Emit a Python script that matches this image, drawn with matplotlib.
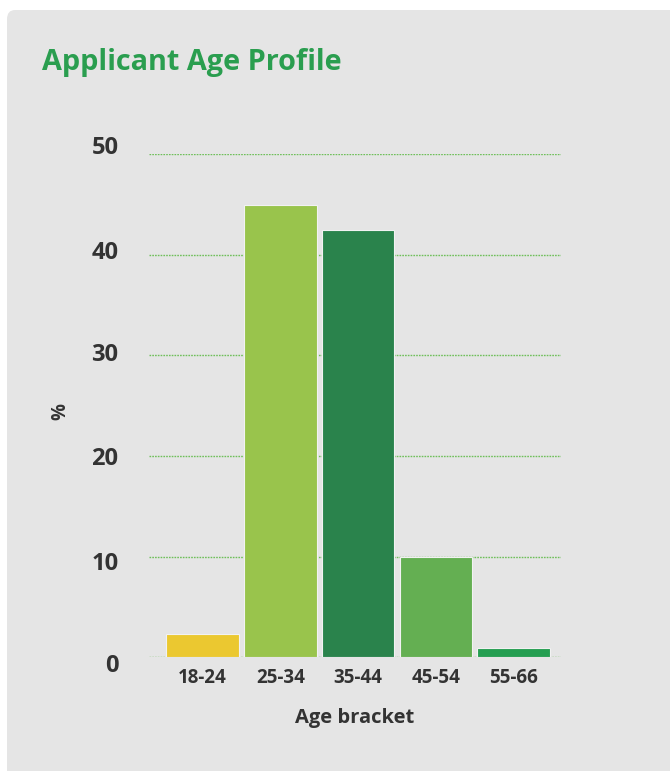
import matplotlib.pyplot as plt
from matplotlib.patches import FancyBboxPatch
from matplotlib.transforms import ScaledTranslation

brackets = ['18-24', '25-34', '35-44', '45-54', '55-66']
shares = [2.3, 45.0, 42.5, 10.0, 0.9]
bar_colors = ['#ebc830', '#99c44c', '#2a834c', '#64af52', '#259e51']
y_ticks = [0, 10, 20, 30, 40, 50]
# the reference's y labels sit a little off their gridlines (pixels, + = down)
label_shift = [5.7, 4.7, 0, -3.7, -4.6, -9.0]

TEXT = '#333333'
GREEN = '#2a9e4f'

plt.rcParams['font.family'] = ['Open Sans', 'DejaVu Sans']

fig = plt.figure(figsize=(6.7, 7.71), dpi=100)
fig.patch.set_facecolor('white')

# grey card behind the chart
card = FancyBboxPatch((7 / 670, -0.05), 1.1, (771 - 10) / 771 + 0.05,
                      boxstyle='round,pad=0,rounding_size=0.012',
                      transform=fig.transFigure, facecolor='#e5e5e5',
                      edgecolor='none', zorder=-10)
fig.patches.append(card)

fig.text(42 / 670, 1 - 70 / 771, 'Applicant Age Profile', color=GREEN,
         fontsize=20.8, fontweight='bold', va='baseline', ha='left')

ax = fig.add_axes([149 / 670, 113.7 / 771, 412 / 670, 503 / 771])
ax.set_facecolor('none')

x = range(len(brackets))
ax.bar(x, shares, width=0.93, color=bar_colors, edgecolor='#f2f2f2',
       linewidth=0.8, zorder=3)

ax.set_xlim(-0.69, 4.61)
ax.set_ylim(0, 50)
ax.set_yticks(y_ticks)
ax.set_xticks(list(x))
ax.set_xticklabels(brackets)

ax.yaxis.grid(True, color='#6fbf5a', linestyle=(0, (1.2, 0.8)), linewidth=1.0, zorder=1)
ax.xaxis.grid(False)
for s in ax.spines.values():
    s.set_visible(False)

ax.tick_params(axis='y', length=0, pad=22, labelsize=17, labelcolor=TEXT)
ax.tick_params(axis='x', length=0, pad=8, labelsize=13.5, labelcolor=TEXT)
for lbl in ax.get_yticklabels() + ax.get_xticklabels():
    lbl.set_fontweight('bold')
for lbl, dy in zip(ax.get_yticklabels(), label_shift):
    lbl.set_transform(lbl.get_transform() + ScaledTranslation(0, -dy / 100, fig.dpi_scale_trans))

ax.set_ylabel('%', fontsize=13.5, fontweight='bold', color=TEXT)
ax.yaxis.set_label_coords(-79 / 412, 0.488)
ax.set_xlabel('Age bracket', fontsize=14.5, fontweight='bold', color=TEXT, labelpad=14)

fig.savefig('out.png', dpi=100)
